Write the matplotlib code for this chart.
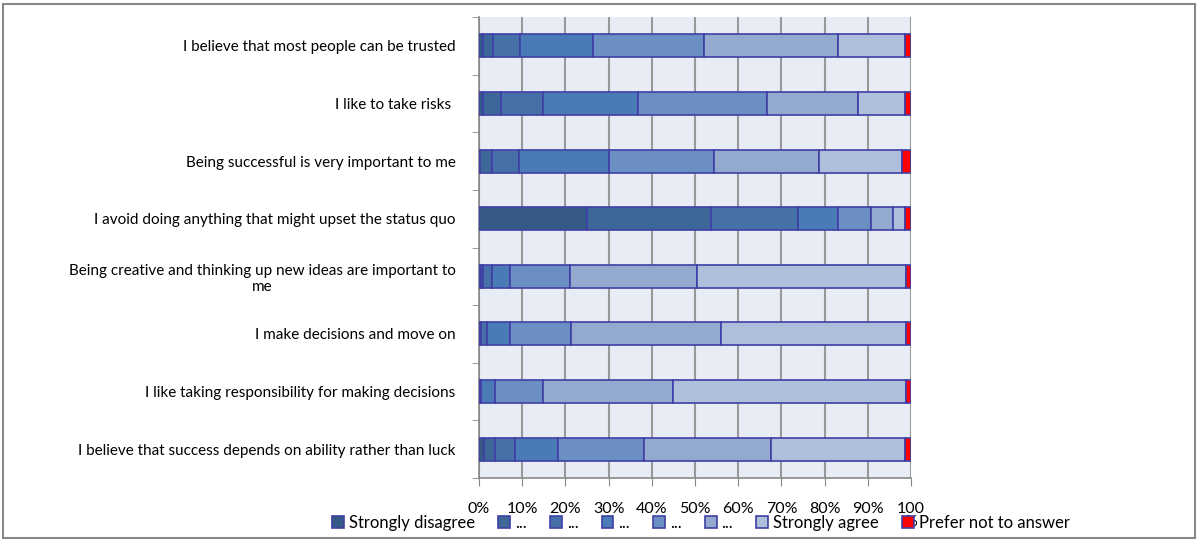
import matplotlib
matplotlib.use("Agg")
from matplotlib import pyplot as plt
from matplotlib.patches import Rectangle
import numpy as np

plt.rcParams["font.family"] = ["Lato", "DejaVu Sans"]
plt.rcParams["font.size"] = 11

statements = [
    "I believe that most people can be trusted",
    "I like to take risks ",
    "Being successful is very important to me",
    "I avoid doing anything that might upset the status quo",
    "Being creative and thinking up new ideas are important to\nme",
    "I make decisions and move on",
    "I like taking responsibility for making decisions",
    "I believe that success depends on ability rather than luck",
]

levels = ["Strongly disagree", "...", "...", "...", "...", "...",
          "Strongly agree", "Prefer not to answer"]

# percent of respondents per statement (top to bottom)
strongly_disagree = [0.9, 0.9, 0.3, 25.0, 0.5, 0.2, 0.2, 1.2]
level2 = [2.3, 4.2, 2.6, 28.7, 0.5, 0.3, 0.1, 2.6]
level3 = [6.4, 9.7, 6.4, 20.2, 1.9, 1.4, 0.2, 4.5]
level4 = [16.8, 22.1, 20.9, 9.1, 4.2, 5.2, 3.3, 10.1]
level5 = [25.6, 29.8, 24.2, 7.8, 14.0, 14.3, 11.1, 19.9]
level6 = [31.2, 21.1, 24.4, 5.1, 29.3, 34.7, 30.0, 29.4]
strongly_agree = [15.5, 10.7, 19.1, 2.8, 48.4, 42.7, 53.9, 30.8]
prefer_not = [1.3, 1.5, 2.1, 1.3, 1.2, 1.2, 1.2, 1.5]

series = [strongly_disagree, level2, level3, level4, level5, level6,
          strongly_agree, prefer_not]
colors = ["#355a85", "#3d6699", "#4571a8", "#4a7bb7", "#6b8fc2",
          "#94a9d0", "#adbfdb", "#ff0000"]

fig = plt.figure(figsize=(11.97, 5.4), dpi=100)
ax = fig.add_axes([479 / 1197, 1 - 478 / 540, 432 / 1197, 461 / 540])
ax.set_facecolor("#e8ecf5")

y = np.arange(len(statements))
left = np.zeros(len(statements))
for vals, col, lab in zip(series, colors, levels):
    ax.barh(y, vals, left=left, height=0.4, color=col, edgecolor="#3f3fa6",
            linewidth=1.2, label=lab, zorder=3)
    left += np.array(vals)

ax.set_xlim(0, 100)
ax.set_ylim(len(statements) - 0.5, -0.5)
ax.set_xticks(np.arange(0, 101, 10))
ax.set_xticklabels([f"{v}%" for v in range(0, 100, 10)] + ["100\n%"],
                   fontsize=11.5)
ax.xaxis.grid(True, color="#999999", linewidth=1.5, zorder=0)
ax.set_axisbelow(True)

ax.set_yticks(y)
ax.set_yticklabels(statements, multialignment="center")
ax.set_yticks(np.arange(-0.5, len(statements), 1), minor=True)
ax.tick_params(axis="y", which="major", length=0, pad=17)
ax.tick_params(axis="y", which="minor", length=5, color="#888888", direction="out")
ax.tick_params(axis="x", length=6, color="#888888", pad=11)
for lbl in ax.get_xticklabels():
    lbl.set_verticalalignment("top")
    lbl.set_linespacing(0.9)

for side in ["top", "right"]:
    ax.spines[side].set_visible(False)
for side in ["left", "bottom"]:
    ax.spines[side].set_color("#888888")
    ax.spines[side].set_linewidth(1.2)

fig.legend(loc="center", bbox_to_anchor=(701 / 1197, 1 - 523 / 540), ncol=8,
           frameon=False, fontsize=12, handlelength=0.7, handleheight=0.7,
           handletextpad=0.3, columnspacing=1.4, borderaxespad=0)

fig.patches.append(Rectangle((3 / 1197, 2 / 540), 1192 / 1197, 534 / 540,
                             transform=fig.transFigure, fill=False,
                             edgecolor="#888888", linewidth=1.5))

fig.savefig("out.png", dpi=100)
